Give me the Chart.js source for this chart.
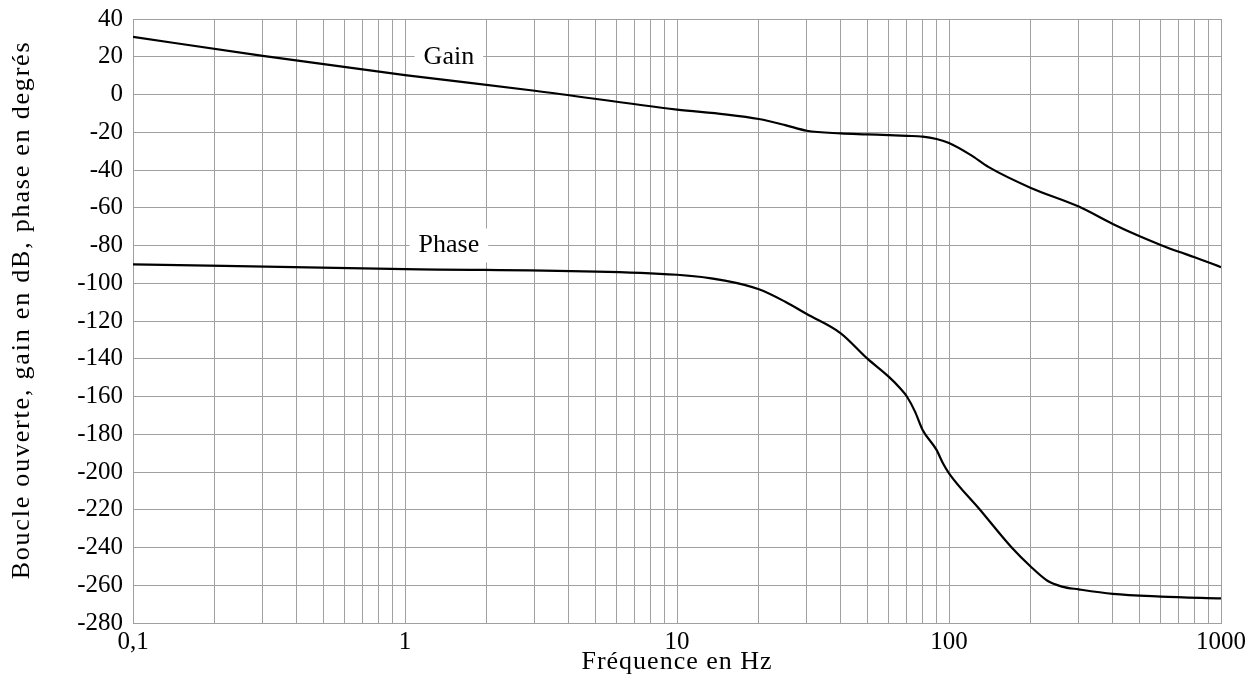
<!DOCTYPE html>
<html>
<head>
<meta charset="utf-8">
<script src="https://cdn.jsdelivr.net/npm/chart.js@4"></script>
<style>
  body { margin: 0; background: #fff; }
</style>
</head>
<body>
<canvas id="chart" width="1259" height="682"></canvas>
<script>
// Gain curve (dB)
const gainFreq = [0.1, 0.3, 1, 3, 10, 15, 20, 25, 30, 40, 50, 70, 80, 90, 100, 120, 140, 200, 300, 400, 500, 600, 700, 800, 1000];
const gainDb = [30.5, 20.5, 10.3, 2, -8, -10.5, -13, -16.2, -19.2, -20.6, -21.1, -21.9, -22.3, -23.6, -25.7, -32, -38.5, -49.5, -59.4, -68.6, -75, -79.7, -83.3, -86.2, -91.5];

// Phase curve (degrees)
const phaseFreq = [0.1, 1, 10, 15, 20, 25, 30, 40, 50, 60, 66, 70, 75, 80, 90, 95, 100, 130, 170, 200, 230, 260, 300, 400, 600, 1000];
const phaseDeg = [-90, -92.5, -95.5, -98.6, -103.2, -109.8, -116.3, -126.5, -139.8, -149.5, -155.5, -160, -168, -177.7, -188.3, -195.4, -200.7, -220, -240, -250.2, -257.6, -260.7, -262.2, -264.6, -266, -267];

// Axis ticks
const decadeLabels = { 0.1: "0,1", 1: "1", 10: "10", 100: "100", 1000: "1000" };
const yMin = -280, yMax = 40, yStep = 20;

// Curve labels: [text, freq, value]
const curveLabels = [["Gain", 1.45, 20], ["Phase", 1.45, -80]];

const xTitle = "Fréquence en Hz";
const yTitle = "Boucle ouverte, gain en dB, phase en degrés";

const FONT = "'Liberation Serif', 'DejaVu Serif', serif";
const gridColor = "#a0a0a0";

const toPoints = (xs, ys) => xs.map((x, i) => ({ x: x, y: ys[i] }));

const labelPlugin = {
  id: "curveLabels",
  beforeDatasetsDraw(chart) {
    const ctx = chart.ctx;
    const xs = chart.scales.x, ys = chart.scales.y;
    ctx.save();
    ctx.font = "26px " + FONT;
    ctx.textAlign = "center";
    ctx.textBaseline = "middle";
    curveLabels.forEach(([text, f, v]) => {
      const px = xs.getPixelForValue(f);
      const py = ys.getPixelForValue(v);
      const w = ctx.measureText(text).width + 18;
      ctx.fillStyle = "#fff";
      ctx.fillRect(px - w / 2, py - 17, w, 34);
      ctx.fillStyle = "#000";
      ctx.fillText(text, px, py);
    });
    ctx.restore();
  },
  // axis titles, drawn with a little letter spacing to match the wider original face
  afterDraw(chart) {
    const ctx = chart.ctx;
    const area = chart.chartArea;
    ctx.save();
    ctx.font = "26px " + FONT;
    ctx.fillStyle = "#000";
    ctx.textAlign = "center";
    ctx.textBaseline = "middle";
    ctx.letterSpacing = "1px";
    ctx.fillText(xTitle, (area.left + area.right) / 2, 662);
    ctx.letterSpacing = "1.8px";
    ctx.translate(22, 310);
    ctx.rotate(-Math.PI / 2);
    ctx.fillText(yTitle, 0, 0);
    ctx.restore();
  }
};

const ctx = document.getElementById("chart").getContext("2d");

new Chart(ctx, {
  type: "line",
  data: {
    datasets: [
      {
        label: "Gain",
        data: toPoints(gainFreq, gainDb),
        borderColor: "#000",
        borderWidth: 2.2,
        pointRadius: 0,
        cubicInterpolationMode: "monotone",
        fill: false,
      },
      {
        label: "Phase",
        data: toPoints(phaseFreq, phaseDeg),
        borderColor: "#000",
        borderWidth: 2.2,
        pointRadius: 0,
        cubicInterpolationMode: "monotone",
        fill: false,
      },
    ],
  },
  options: {
    responsive: false,
    animation: false,
    layout: { padding: { left: 7, right: 38, top: 19, bottom: 4 } },
    plugins: {
      legend: { display: false },
      tooltip: { enabled: false },
    },
    scales: {
      x: {
        type: "logarithmic",
        min: 0.1,
        max: 1000,
        afterBuildTicks: (scale) => {
          const ticks = [];
          for (let e = -1; e < 3; e++) {
            for (let s = 1; s <= 9; s++) {
              ticks.push({ value: Number((s * Math.pow(10, e)).toPrecision(3)) });
            }
          }
          ticks.push({ value: 1000 });
          scale.ticks = ticks;
        },
        afterFit: (scale) => {
          scale.height = 55;
          scale.paddingLeft = 0;
          scale.paddingRight = 0;
        },
        grid: { color: gridColor, lineWidth: 1, drawTicks: false },
        border: { color: gridColor },
        ticks: {
          autoSkip: false,
          maxRotation: 0,
          padding: 4,
          color: "#000",
          font: { family: FONT, size: 25 },
          callback: (v) => decadeLabels[v] || "",
        },
      },
      y: {
        min: yMin,
        max: yMax,
        afterFit: (scale) => {
          scale.width = 126;
          scale.paddingTop = 0;
          scale.paddingBottom = 0;
        },
        grid: { color: gridColor, lineWidth: 1, drawTicks: false },
        border: { color: gridColor },
        ticks: {
          stepSize: yStep,
          padding: 10,
          color: "#000",
          font: { family: FONT, size: 25 },
        },
      },
    },
  },
  plugins: [labelPlugin],
});
</script>
</body>
</html>
